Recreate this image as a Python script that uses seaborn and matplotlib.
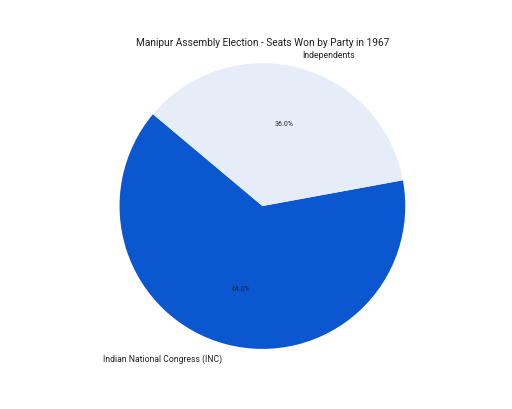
import matplotlib
matplotlib.use("Agg")
import matplotlib.pyplot as plt
import seaborn as sns

parties = ["Indian National Congress (INC)", "Independents"]
seats = [16, 9]
colors = ["#0B57D0", "#E7EDF8"]
title = "Manipur Assembly Election - Seats Won by Party in 1967"

sns.set_theme(style="white")
plt.rcParams['font.family'] = ['Roboto', 'DejaVu Sans']

fig, ax = plt.subplots(figsize=(5.12, 4.10), dpi=100)
wedges, texts, autotexts = ax.pie(seats, labels=parties, colors=colors,
                                  autopct="%1.1f%%", startangle=140,
                                  wedgeprops={"edgecolor": "none", "linewidth": 0},
                                  textprops={"fontsize": 6.2, "color": "#222222"})
for t in autotexts:
    t.set_fontsize(5)
ax.set_xlim(-1.105, 1.105)
ax.set_ylim(-1.105, 1.105)
ax.set_aspect("equal")
ax.set_title(title, fontsize=7.3, color="#1f1f1f", pad=2)
fig.savefig("out.png", dpi=100)
